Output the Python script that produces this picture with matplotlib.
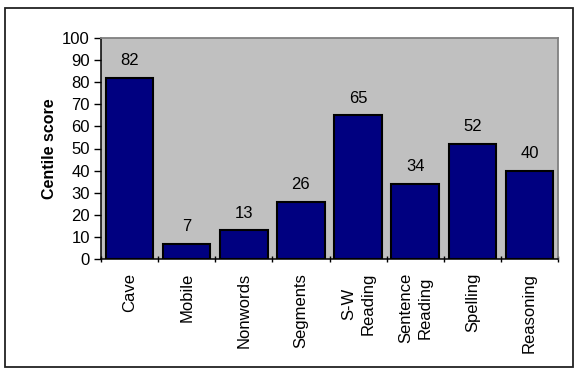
import matplotlib
matplotlib.use("Agg")
import matplotlib.pyplot as plt
from matplotlib.patches import Rectangle

categories = ["Cave", "Mobile", "Nonwords", "Segments", "S-W\nReading",
              "Sentence\nReading", "Spelling", "Reasoning"]
values = [82, 7, 13, 26, 65, 34, 52, 40]
yticks = [0, 10, 20, 30, 40, 50, 60, 70, 80, 90, 100]

plt.rcParams['font.family'] = ['Liberation Sans', 'DejaVu Sans']

W, H = 581, 376
FS = 12
fig = plt.figure(figsize=(W / 100, H / 100), dpi=100)
fig.patch.set_facecolor('white')

# outer frame
fig.patches.append(Rectangle((5 / W, 1 - 367 / H), (573 - 5) / W, (367 - 8) / H,
                             transform=fig.transFigure, fill=False,
                             edgecolor='#222222', linewidth=1.3))

ax = fig.add_axes([101 / W, 1 - 259 / H, (558 - 101) / W, (259 - 38) / H])
ax.set_facecolor('#C0C0C0')

x = list(range(len(categories)))
bars = ax.bar(x, values, width=0.83, color='#000080', edgecolor='black',
              linewidth=1.5, zorder=2)
for xi, v in zip(x, values):
    ax.annotate(str(v), (xi, v), xytext=(0, 7), textcoords='offset points',
                ha='center', va='bottom', fontsize=FS, color='black')

ax.set_xlim(-0.5, len(categories) - 0.5)
ax.set_ylim(0, 100)
ax.set_yticks(yticks)
ax.set_yticklabels([str(t) for t in yticks], fontsize=FS)
ax.tick_params(axis='y', length=5, width=1, direction='out', pad=3)

ax.set_xticks([i + 0.5 for i in range(-1, len(categories))], minor=False)
ax.set_xticklabels([])
ax.tick_params(axis='x', length=5, width=1, direction='inout')
ax.set_xticks(x, minor=True)
ax.set_xticklabels(categories, minor=True, rotation=90, fontsize=FS,
                   ha='center', va='top', multialignment='center',
                   linespacing=1.35)
ax.tick_params(axis='x', which='minor', length=0, pad=10)

for s in ['left', 'bottom']:
    ax.spines[s].set_color('black')
    ax.spines[s].set_linewidth(1.1)
for s in ['top', 'right']:
    ax.spines[s].set_color('#808080')
    ax.spines[s].set_linewidth(1.3)

ax.set_ylabel('Centile score', fontsize=11.5, fontweight='bold', labelpad=4)

fig.savefig('out.png', dpi=100)
